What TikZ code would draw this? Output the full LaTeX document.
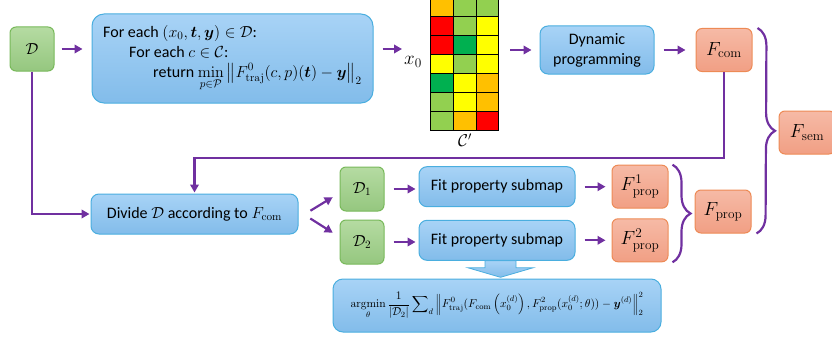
\RequirePackage{fix-cm}
\documentclass[tikz,border=0pt]{standalone}
\usepackage{amsmath,amssymb}
\usepackage[no-math]{fontspec}
\setmainfont{Carlito}
\usepackage{tikz}
\usetikzlibrary{arrows.meta, positioning, calc, decorations.pathreplacing}

\definecolor{purp}{HTML}{7030A0}
\definecolor{blutop}{HTML}{A8D3F6}
\definecolor{blubot}{HTML}{82BCEA}
\definecolor{bluline}{HTML}{4AAEDF}
\definecolor{grntop}{HTML}{B5DBA2}
\definecolor{grnbot}{HTML}{95C77F}
\definecolor{grnline}{HTML}{78B95A}
\definecolor{orgtop}{HTML}{F6BAA6}
\definecolor{orgbot}{HTML}{F19F84}
\definecolor{orgline}{HTML}{ED8A55}
\definecolor{cO}{HTML}{FFC000}
\definecolor{cL}{HTML}{92D050}
\definecolor{cR}{HTML}{FF0000}
\definecolor{cD}{HTML}{00B050}
\definecolor{cY}{HTML}{FFFF00}

\tikzset{
  %% Shaded rounded box
  sbox/.style={
    rectangle, rounded corners=6pt,
    draw=#1line, top color=#1top, bottom color=#1bot,
    text centered, inner sep=3pt, line width=1pt
  },
  sbox/.default=blu,
  %% Data subset box
  setbox/.style={sbox=grn, minimum width=44pt, minimum height=44pt},
  %% Map box
  mapbox/.style={sbox=org, minimum width=56pt, minimum height=43pt,
                 font=\fontsize{19}{22}\selectfont},
  %% Arrow
  arr/.style={-{Triangle[length=8pt,width=8.5pt]},
              draw=purp, line width=2.2pt},
  %% Curly brace
  brc/.style={decorate, decoration={brace, amplitude=18pt},
              draw=purp, line width=2.2pt},
  %% Cell of the table
  cell/.style={draw=black, line width=0.9pt},
  %% Wide block arrow
  blockarr/.style={draw=bluline, line width=0.8pt,
                   top color=blutop, bottom color=blubot},
}

\begin{document}
\begin{tikzpicture}[every node/.style={font=\fontsize{16}{20}\selectfont}]

  \useasboundingbox (0,0) rectangle (832pt,-337pt);

  %% Data set
  \node[setbox] (dset) at (32pt,-49pt) {$\mathcal{D}$};

  %% Search loop
  \node[sbox=blu, rounded corners=12pt, minimum width=281pt,
        minimum height=89pt, align=left,
        right=37pt of dset, yshift=-9.5pt] (loopbox)
        {For each $(x_0,\boldsymbol{t},\boldsymbol{y})\in\mathcal{D}$:\\
         \hspace*{26pt}For each $c\in\mathcal{C}$:\\
         \hspace*{50pt}return $\displaystyle\min_{p\in\mathcal{P}}
         \left\|F^{0}_{\mathrm{traj}}(c,p)(\boldsymbol{t})
         -\boldsymbol{y}\right\|_2$};

  \node[inner sep=0pt, font=\fontsize{19}{22}\selectfont] (x0)
        at (413pt,-62pt) {$x_0$};

  %% Table C'
  \node[minimum width=68pt, minimum height=132.3pt, inner sep=0pt]
        (cgrid) at (465pt,-64.1pt) {};
  \foreach \row [count=\r from 0] in {{cO,cL,cL},{cR,cL,cY},{cR,cD,cY},
                                      {cY,cL,cY},{cD,cY,cO},{cL,cY,cO},
                                      {cL,cO,cR}}
    \foreach \col [count=\c from 0] in \row
      \draw[cell, fill=\col]
        ([shift={(\c*22.67pt,-\r*18.9pt)}]cgrid.north west)
        rectangle ++(22.67pt,-18.9pt);
  \node[below=0pt of cgrid, font=\fontsize{17}{20}\selectfont] (cprime)
        {$\mathcal{C}'$};

  %% Dynamic programming
  \node[sbox=blu, rounded corners=8pt, minimum width=114pt,
        minimum height=48pt, align=center] (dp)
        at (597pt,-50pt) {Dynamic\\programming};
  \node[mapbox, right=41pt of dp] (fcom) {$F_{\mathrm{com}}$};

  %% Divide
  \node[sbox=blu, rounded corners=8pt, minimum width=207pt,
        minimum height=40pt] (divide)
        at (194.5pt,-214pt) {Divide $\mathcal{D}$ according to $F_{\mathrm{com}}$};

  %% Subsets
  \node[setbox] (d1) at (362pt,-189pt) {$\mathcal{D}_1$};
  \node[setbox, below=8pt of d1] (d2) {$\mathcal{D}_2$};

  %% Submaps
  \node[sbox=blu, rounded corners=8pt, minimum width=156pt,
        minimum height=40pt, right=34pt of d1, yshift=2.3pt] (fit1)
        {Fit property submap};
  \node[sbox=blu, rounded corners=8pt, minimum width=156pt,
        minimum height=40pt, right=34pt of d2, yshift=1.7pt] (fit2)
        {Fit property submap};
  \node[mapbox, right=36pt of fit1] (f1) {$F^{1}_{\mathrm{prop}}$};
  \node[mapbox, right=36pt of fit2] (f2) {$F^{2}_{\mathrm{prop}}$};

  %% Merged maps
  \node[mapbox] (fprop) at (723pt,-211.5pt) {$F_{\mathrm{prop}}$};
  \node[mapbox] (fsem) at (807pt,-132.5pt) {$F_{\mathrm{sem}}$};

  %% Objective
  \node[sbox=blu, rounded corners=10pt, minimum width=328pt,
        minimum height=53pt, font=\fontsize{11.5}{13}\selectfont] (obj)
        at (497pt,-305.5pt)
        {$\displaystyle\operatorname*{argmin}_{\theta}
          \frac{1}{|\mathcal{D}_2|}\sum\nolimits_{d}
          \left\|F^{0}_{\mathrm{traj}}(F_{\mathrm{com}}\left(x_0^{(d)}\right),
          F^{2}_{\mathrm{prop}}(x_0^{(d)};\theta))
          -\boldsymbol{y}^{(d)}\right\|_2^2$};

  %% Straight arrows
  \draw[arr, shorten <=7pt, shorten >=9pt] (dset.east) -- (dset.east -| loopbox.west);
  \draw[arr, shorten <=9pt, shorten >=2pt] (loopbox.east |- dset) -- (x0.west |- dset);
  \draw[arr, shorten <=11pt, shorten >=8pt] (cgrid.east |- dp) -- (dp.west);
  \draw[arr, shorten <=9pt, shorten >=10pt] (dp.east) -- (fcom.west);
  \foreach \a/\b in {d1/fit1, d2/fit2}
    \draw[arr, shorten <=9pt, shorten >=3pt] (\a.east) -- (\a.east -| \b.west);
  \foreach \a/\b in {fit1/f1, fit2/f2}
    \draw[arr, shorten <=9pt, shorten >=6pt] (\a.east) -- (\b.west);

  %% Split arrows
  \draw[arr, shorten <=14pt, shorten >=8pt]
        ([yshift=-4pt]divide.east) -- ([yshift=-4pt]d1.west);
  \draw[arr, shorten <=14pt, shorten >=8pt]
        ([yshift=3pt]divide.east) -- ([yshift=5pt]d2.west);

  %% Feedback lines
  \draw[arr, shorten >=1pt] (fcom.south) -- ++(0,-86pt) -| (divide.north);
  \draw[arr, shorten >=1pt] (dset.south) |- (divide.west);

  %% Braces
  \draw[brc] ([xshift=4pt]f1.north east) -- ([xshift=4pt]f2.south east);
  \draw[brc] ([xshift=5pt]fcom.north east) -- ([xshift=5pt]fprop.south east);

  %% Block arrow to objective
  \draw[blockarr] ([xshift=-12pt]fit2.south) -- ++(0,-7pt) -- ++(-17pt,0)
        -- ++(32.5pt,-9.5pt) -- ++(32.5pt,9.5pt) -- ++(-17pt,0)
        -- ++(0,7pt) -- cycle;

\end{tikzpicture}
\end{document}
